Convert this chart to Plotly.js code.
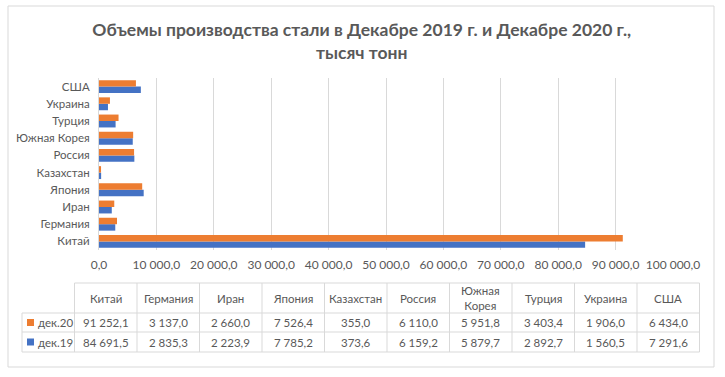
<!DOCTYPE html>
<html><head><meta charset="utf-8">
<script src="https://cdn.plot.ly/plotly-3.0.1.min.js"></script>
<style>html,body{margin:0;padding:0;background:#fff;}#chart{width:725px;height:377px;}</style>
</head><body><div id="chart"></div>
<script>
const categories = ["Китай","Германия","Иран","Япония","Казахстан","Россия","Южная Корея","Турция","Украина","США"];
const dec20 = [91252.1,3137.0,2660.0,7526.4,355.0,6110.0,5951.8,3403.4,1906.0,6434.0];
const dec19 = [84691.5,2835.3,2223.9,7785.2,373.6,6159.2,5879.7,2892.7,1560.5,7291.6];
const seriesNames = ["дек.20","дек.19"];
const seriesColors = ["#ED7D31","#4472C4"];
const titleText = "Объемы производства стали в Декабре 2019 г. и Декабре 2020 г.,<br>тысяч тонн";

const W=725,H=377, L=99, R=673, T=78, B=250;
const px = x => (x-L)/(R-L);
const py = y => (B-y)/(B-T);
const FONT = "Lato, 'Open Sans', sans-serif";
const TXT = "#595959", GRID="#D9D9D9";

function fmt(v){ const s=v.toFixed(1).split('.'); return s[0].replace(/\B(?=(\d{3})+(?!\d))/g,' ')+','+s[1]; }

const traces = [
  {type:'bar',orientation:'h',y:categories,x:dec19,name:seriesNames[1],marker:{color:seriesColors[1]},hoverinfo:'skip'},
  {type:'bar',orientation:'h',y:categories,x:dec20,name:seriesNames[0],marker:{color:seriesColors[0]},hoverinfo:'skip'}
];

const shapes=[], annotations=[];
shapes.push({type:'rect',xref:'paper',yref:'paper',x0:px(8),x1:px(714),y0:py(6),y1:py(367),line:{color:GRID,width:1},fillcolor:'rgba(0,0,0,0)',layer:'below'});
const tL=22, c0=74.5, cW=62.5, n=categories.length, tR=c0+cW*n;
const rows=[283,313,332,352];
const line=(x0,y0,x1,y1)=>shapes.push({type:'line',xref:'paper',yref:'paper',x0:px(x0),x1:px(x1),y0:py(y0),y1:py(y1),line:{color:GRID,width:1}});
line(c0,rows[0],tR,rows[0]);
for(let r=1;r<4;r++) line(tL,rows[r],tR,rows[r]);
line(tL,rows[1],tL,rows[3]);
for(let i=0;i<=n;i++) line(c0+cW*i,rows[0],c0+cW*i,rows[3]);
const ann=(x,y,text,xa)=>annotations.push({xref:'paper',yref:'paper',x:px(x),y:py(y),text:text,showarrow:false,xanchor:xa||'center',yanchor:'middle',font:{family:FONT,size:11.5,color:TXT}});
categories.forEach((c,i)=>{
  const cx=c0+cW*(i+0.5);
  ann(cx,(rows[0]+rows[1])/2,c.replace(' ','<br>'));
  ann(cx,(rows[1]+rows[2])/2,fmt(dec20[i]));
  ann(cx,(rows[2]+rows[3])/2,fmt(dec19[i]));
});
[[dec20,0],[dec19,1]].forEach(([arr,k],j)=>{
  const yc=(rows[1+j]+rows[2+j])/2;
  shapes.push({type:'rect',xref:'paper',yref:'paper',x0:px(27),x1:px(34),y0:py(yc-3.5),y1:py(yc+3.5),fillcolor:seriesColors[k],line:{width:0}});
  ann(36,yc,seriesNames[k],'left');
});

const layout={
  width:W,height:H,margin:{l:L,r:W-R,t:T,b:H-B,pad:0},
  paper_bgcolor:'#fff',plot_bgcolor:'#fff',
  separators:', ',
  font:{family:FONT,size:12,color:TXT},
  title:{text:titleText,x:0.499,xanchor:'center',xref:'container',y:1-36/H,yref:'container',yanchor:'top',font:{family:FONT,size:17.5,color:TXT,weight:'bold'}},
  barmode:'group',bargap:0.25,bargroupgap:0,
  showlegend:false,
  xaxis:{range:[0,100000],dtick:10000,tick0:0,tickformat:',.1f',showgrid:true,gridcolor:GRID,gridwidth:1,zeroline:false,showline:false,ticks:'',tickfont:{size:12,color:TXT},ticklabelstandoff:6,fixedrange:true},
  yaxis:{type:'category',showgrid:false,zeroline:false,showline:true,linecolor:GRID,ticks:'',tickfont:{size:11.5,color:TXT},ticklabelstandoff:6,fixedrange:true},
  shapes:shapes,annotations:annotations
};
Plotly.newPlot('chart',traces,layout,{displayModeBar:false,staticPlot:true});
</script></body></html>
